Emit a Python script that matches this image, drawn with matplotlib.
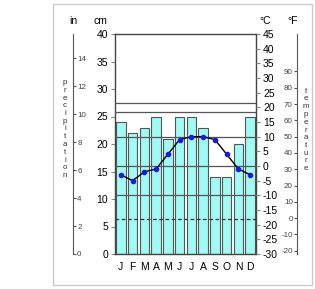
import matplotlib
matplotlib.use('Agg')
import matplotlib.pyplot as plt
from matplotlib.patches import Rectangle

plt.rcParams['font.family'] = ['Liberation Sans', 'DejaVu Sans']
plt.rcParams['axes.unicode_minus'] = False

months = ['J', 'F', 'M', 'A', 'M', 'J', 'J', 'A', 'S', 'O', 'N', 'D']
precip_cm = [24, 22, 23, 25, 21, 25, 25, 23, 14, 14, 20, 25]
temp_c = [-3, -5, -2, -1, 4, 9, 10, 10, 9, 4, -1, -3]
solid_lines_c = [21.5, 18.5, 10, 0, -10]
dashed_line_c = -18

W, H = 315, 289
fig = plt.figure(figsize=(W / 100, H / 100), dpi=100)


def fx(px):
    return px / W


def fy(py):
    return 1 - py / H


# outer frame
fig.patches.append(Rectangle((fx(53), fy(285)), fx(312) - fx(53), fy(4) - fy(285),
                             transform=fig.transFigure, fill=False,
                             edgecolor='#cccccc', lw=1))

left, right, top, bottom = 115, 256, 34, 254
ax = fig.add_axes([fx(left), fy(bottom), fx(right) - fx(left), fy(top) - fy(bottom)])
x = list(range(12))
ax.bar(x, precip_cm, width=0.82, color='#9ffbf3', edgecolor='#555555', lw=0.8, zorder=1)
ax.set_xlim(-0.5, 11.5)
ax.set_ylim(0, 40)
ax.set_yticks(range(0, 41, 5))
ax.set_xticks(x)
ax.set_xticklabels(months)
ax.tick_params(axis='x', length=0, labelsize=7.5, pad=6)
ax.tick_params(axis='y', length=3, labelsize=7.5, color='#888888', pad=2)
for s in ax.spines.values():
    s.set_color('#444444')
    s.set_linewidth(1)

axt = ax.twinx()
axt.set_ylim(-30, 45)
axt.set_yticks(range(-30, 46, 5))
axt.tick_params(axis='y', length=3, labelsize=7.5, color='#888888', pad=2)
for s in axt.spines.values():
    s.set_visible(False)
for v in solid_lines_c:
    axt.axhline(v, color='#555555', lw=0.9, zorder=2)
axt.axhline(dashed_line_c, color='#333333', lw=0.9, ls=(0, (3, 2)), zorder=2)
axt.plot(x, temp_c, color='black', lw=1, zorder=3)
axt.plot(x, temp_c, 'o', color='#1a1ad8', ms=3, zorder=4)

# inches axis
axi = fig.add_axes([fx(73), fy(bottom), 0.0001, fy(top) - fy(bottom)])
axi.set_ylim(0, 40 / 2.54)
axi.set_yticks(range(0, 15, 2))
axi.set_xticks([])
for k in ['top', 'bottom', 'right']:
    axi.spines[k].set_visible(False)
axi.spines['left'].set_color('#555555')
axi.tick_params(axis='y', left=False, right=True, labelleft=False, labelright=True,
                length=2, labelsize=5.8, labelcolor='#444444', color='#555555', pad=1)

# fahrenheit axis
axf = fig.add_axes([fx(297), fy(bottom), 0.0001, fy(top) - fy(bottom)])
axf.set_ylim(-30 * 9 / 5 + 32, 45 * 9 / 5 + 32)
axf.set_yticks(range(-20, 91, 10))
axf.set_xticks([])
for k in ['top', 'bottom', 'left']:
    axf.spines[k].set_visible(False)
axf.spines['right'].set_color('#555555')
axf.tick_params(axis='y', left=True, right=False, labelleft=True, labelright=False,
                length=2, labelsize=5.8, labelcolor='#444444', color='#555555', pad=1)

# headers
for txt, px in [('in', 73), ('cm', 100), ('°C', 265), ('°F', 293)]:
    fig.text(fx(px), fy(21), txt, ha='center', va='center', fontsize=7.5)

# vertical stacked labels
fig.text(fx(65), fy(129), '\n'.join('precipitation'), ha='center', va='center',
         fontsize=5.8, color='#333333', linespacing=1.15)
fig.text(fx(306), fy(130), '\n'.join('temperature'), ha='center', va='center',
         fontsize=5.8, color='#333333', linespacing=1.15)

fig.savefig('out.png', dpi=100)
